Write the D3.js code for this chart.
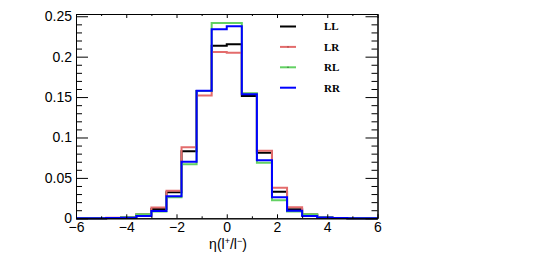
<!DOCTYPE html>
<html>
<head>
<meta charset="utf-8">
<script src="https://cdn.jsdelivr.net/npm/d3@7"></script>
<style>
  body { margin: 0; background: #fff; }
  svg { display: block; }
  .axis text { font-family: "Liberation Sans", Arial, sans-serif; font-size: 14px; fill: #000; }
</style>
</head>
<body>
<div id="chart"></div>
<script>
// bin edges of eta(l+/l-)
const binEdges = [-6, -5.4, -4.8, -4.2, -3.6, -3.0, -2.4, -1.8, -1.2, -0.6, 0,
  0.6, 1.2, 1.8, 2.4, 3.0, 3.6, 4.2, 4.8, 5.4, 6];

const valuesLL = [0.0001, 0.0002, 0.0005, 0.0012, 0.0040, 0.0115, 0.0322, 0.0829, 0.1575, 0.2136,
  0.2153, 0.1514, 0.0812, 0.0329, 0.0111, 0.0040, 0.0012, 0.0004, 0.0002, 0.0001];
const valuesLR = [0.0001, 0.0002, 0.0006, 0.0015, 0.0053, 0.0133, 0.0342, 0.0879, 0.1520, 0.2058,
  0.2049, 0.1540, 0.0837, 0.0379, 0.0136, 0.0053, 0.0015, 0.0005, 0.0002, 0.0001];
const valuesRL = [0.0001, 0.0002, 0.0005, 0.0012, 0.0050, 0.0085, 0.0262, 0.0668, 0.1575, 0.2417,
  0.2417, 0.1547, 0.0688, 0.0223, 0.0085, 0.0050, 0.0012, 0.0004, 0.0001, 0.0001];
const valuesRR = [0.0001, 0.0002, 0.0004, 0.0008, 0.0028, 0.0090, 0.0272, 0.0700, 0.1578, 0.2340,
  0.2376, 0.1535, 0.0718, 0.0260, 0.0094, 0.0028, 0.0010, 0.0004, 0.0002, 0.0001];

const seriesNames = ["LL", "LR", "RL", "RR"];

const yMajorTicks = [0, 0.05, 0.1, 0.15, 0.2, 0.25];
const xMajorTicks = [-6, -4, -2, 0, 2, 4, 6];

const width = 540;
const height = 257;
const margin = { top: 14, right: 162.5, bottom: 38.7, left: 76 };

const series = [
  { name: "LL", values: valuesLL, color: "#000000", dot: null },
  { name: "LR", values: valuesLR, color: "#e36c6c", dot: "#8a3030" },
  { name: "RL", values: valuesRL, color: "#63d163", dot: "#2e6e2e" },
  { name: "RR", values: valuesRR, color: "#0000ff", dot: null }
];

const svg = d3.select("#chart").append("svg")
  .attr("width", width)
  .attr("height", height);

const x = d3.scaleLinear()
  .domain([-6, 6])
  .range([margin.left, width - margin.right]);

const y = d3.scaleLinear()
  .domain([0, 0.2528])
  .range([height - margin.bottom, margin.top]);

const yMinor = d3.range(0, 0.2501, 0.01).filter(v => Math.abs(v * 20 - Math.round(v * 20)) > 1e-6);
const xMinor = d3.range(-6, 6.01, 1).filter(v => Math.round(v) % 2 !== 0);

const yFormat = d => d === 0 ? "0" : String(+d.toFixed(2));

// histograms as step lines
const line = d3.line()
  .x(d => x(d[0]))
  .y(d => y(d[1]));

series.forEach(s => {
  const pts = [];
  s.values.forEach((v, i) => {
    pts.push([binEdges[i], v]);
    pts.push([binEdges[i + 1], v]);
  });
  svg.append("path")
    .datum(pts)
    .attr("fill", "none")
    .attr("stroke", s.color)
    .attr("stroke-width", 2)
    .attr("d", line);
});

// axes, ROOT style with inward ticks on all four sides
const yBottom = y(0);
const xLeft = x(-6);
const xRight = x(6);
const yTop = y.range()[1];

svg.append("g").attr("class", "axis")
  .attr("transform", `translate(${xLeft},0)`)
  .call(d3.axisLeft(y).tickValues(yMajorTicks).tickFormat(yFormat)
    .tickSizeInner(-12).tickSizeOuter(0).tickPadding(4));

svg.append("g").attr("class", "axis")
  .attr("transform", `translate(${xLeft},0)`)
  .call(d3.axisLeft(y).tickValues(yMinor).tickFormat("").tickSizeInner(-6).tickSizeOuter(0));

svg.append("g").attr("class", "axis")
  .attr("transform", `translate(${xRight},0)`)
  .call(d3.axisRight(y).tickValues(yMajorTicks).tickFormat("").tickSizeInner(-12).tickSizeOuter(0));

svg.append("g").attr("class", "axis")
  .attr("transform", `translate(${xRight},0)`)
  .call(d3.axisRight(y).tickValues(yMinor).tickFormat("").tickSizeInner(-6).tickSizeOuter(0));

svg.append("g").attr("class", "axis")
  .attr("transform", `translate(0,${yBottom})`)
  .call(d3.axisBottom(x).tickValues(xMajorTicks)
    .tickSizeInner(-4).tickSizeOuter(0).tickPadding(4));

svg.append("g").attr("class", "axis")
  .attr("transform", `translate(0,${yBottom})`)
  .call(d3.axisBottom(x).tickValues(xMinor).tickFormat("").tickSizeInner(-2).tickSizeOuter(0));

svg.append("g").attr("class", "axis")
  .attr("transform", `translate(0,${yTop})`)
  .call(d3.axisTop(x).tickValues(xMajorTicks).tickFormat("").tickSizeInner(-4).tickSizeOuter(0));

svg.append("g").attr("class", "axis")
  .attr("transform", `translate(0,${yTop})`)
  .call(d3.axisTop(x).tickValues(xMinor).tickFormat("").tickSizeInner(-2).tickSizeOuter(0));

svg.selectAll(".axis .domain").attr("stroke", "#000");
svg.selectAll(".axis line").attr("stroke", "#000");

// x axis title
const title = svg.append("text")
  .attr("x", 228)
  .attr("y", 249)
  .attr("text-anchor", "middle")
  .style("font-family", "'Liberation Sans', Arial, sans-serif")
  .style("font-size", "14px");
title.append("tspan").text("η(l");
title.append("tspan").attr("dy", -5).style("font-size", "9px").text("+");
title.append("tspan").attr("dy", 5).text("/l");
title.append("tspan").attr("dy", -5).style("font-size", "9px").text("−");
title.append("tspan").attr("dy", 5).text(")");

// legend
const legend = svg.append("g").attr("transform", "translate(280,26.5)");
series.forEach((s, i) => {
  const row = legend.append("g").attr("transform", `translate(0,${i * 20.4})`);
  row.append("line")
    .attr("x1", 0).attr("x2", 16)
    .attr("stroke", s.color)
    .attr("stroke-width", 2);
  if (s.dot) {
    row.append("circle").attr("cx", 8).attr("r", 0.7).attr("fill", s.dot);
  }
  row.append("text")
    .attr("x", 44)
    .attr("dy", "0.35em")
    .style("font-family", "'Liberation Serif', 'Times New Roman', serif")
    .style("font-weight", "bold")
    .style("font-size", "11px")
    .text(seriesNames[i]);
});
</script>
</body>
</html>
